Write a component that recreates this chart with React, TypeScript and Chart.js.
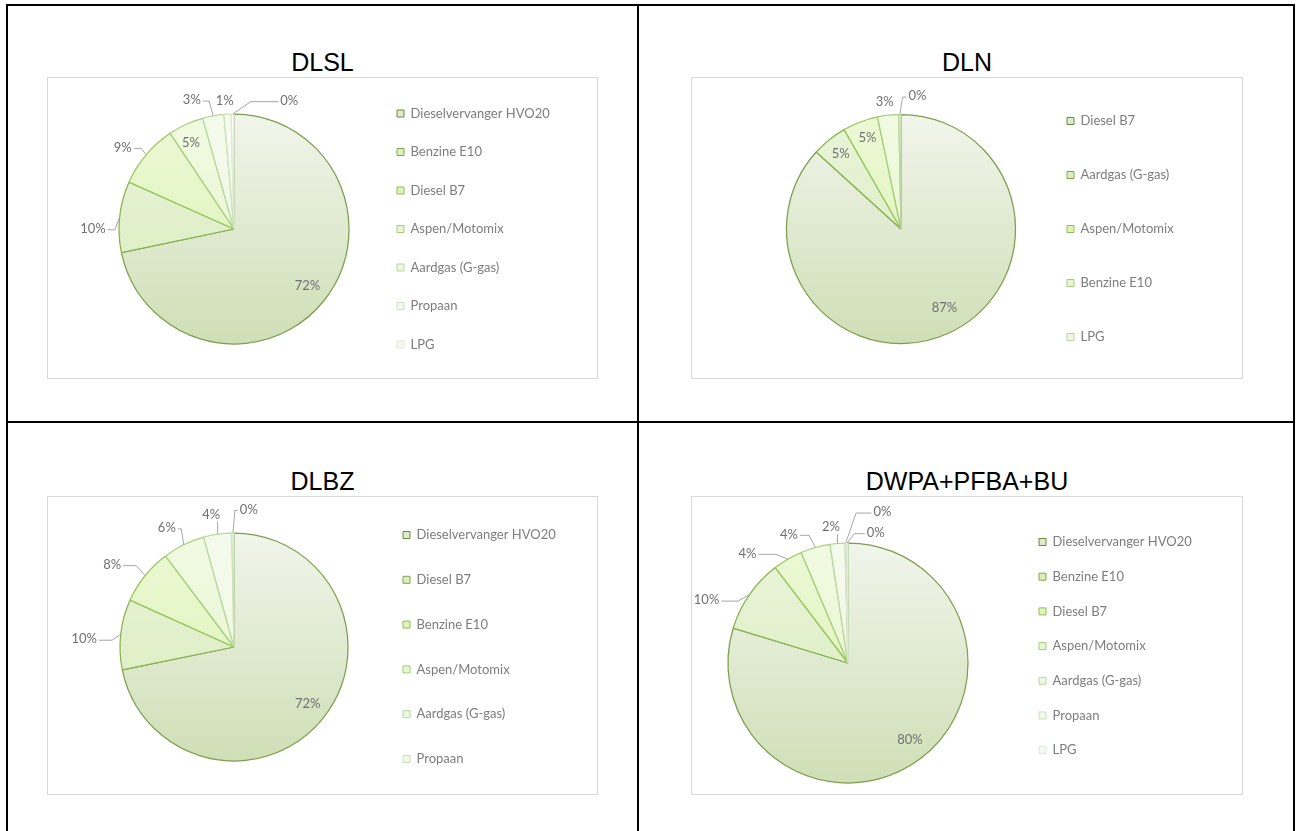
import React, { useEffect, useRef } from 'react';
import { Chart, registerables } from 'chart.js';

Chart.register(...registerables);

// ---------- data ----------
const chartTitles = ['DLSL', 'DLN', 'DLBZ', 'DWPA+PFBA+BU'];

const dlslCategories = ['Dieselvervanger HVO20', 'Benzine E10', 'Diesel B7', 'Aspen/Motomix', 'Aardgas (G-gas)', 'Propaan', 'LPG'];
const dlslValues = [72, 10, 9, 5, 3, 1, 0.4];

const dlnCategories = ['Diesel B7', 'Aardgas (G-gas)', 'Aspen/Motomix', 'Benzine E10', 'LPG'];
const dlnValues = [87, 5, 5, 3, 0.3];

const dlbzCategories = ['Dieselvervanger HVO20', 'Diesel B7', 'Benzine E10', 'Aspen/Motomix', 'Aardgas (G-gas)', 'Propaan'];
const dlbzValues = [72, 10, 8, 6, 4, 0.3];

const dwpaCategories = ['Dieselvervanger HVO20', 'Benzine E10', 'Diesel B7', 'Aspen/Motomix', 'Aardgas (G-gas)', 'Propaan', 'LPG'];
const dwpaValues = [80, 10, 4, 4, 2, 0.2, 0.2];

// ---------- styles ----------
const sliceTop = ['#f1f5eb', '#e9f4da', '#ecf9d5', '#f1fae2', '#f5fbec', '#f7fbf1', '#f9fbf6'];
const sliceBottom = ['#cfdfb6', '#d8ecba', '#daf2b2', '#e4f5cb', '#ecf6e0', '#f0f6e8', '#f3f7ef'];
const sliceBorder = ['#7f9e4c', '#8bb24d', '#99c65c', '#aacd80', '#bdd7a3', '#cfe1c1', '#dfe9d8'];
const legendFill = ['#dfe9cf', '#dcedc2', '#dff4bd', '#e8f6d2', '#eef7e3', '#f2f8ea', '#f6f9f2'];
const legendStroke = ['#6b8b3a', '#7ea845', '#8fc050', '#a6cb7c', '#bad5a0', '#cde0be', '#dfe8d8'];

const FONT_FAMILY = 'Lato';
const FONT_SIZE = 13;
const TEXT_GRAY = '#7d7d7d';

// label placement: [radius factor, angle shift in degrees] relative to slice mid-angle
const dlslLabelPos = [[0.805, -1.6], [1.226, -6], [1.2, -3.9], [0.837, -1.8], [1.18, -7.7], [1.12, -0.9], [1.215, 24]];
const dlnLabelPos = [[0.79, -4.9], [0.84, 0], [0.85, 0.6], [1.116, -0.9], [1.17, 7.6]];
const dlbzLabelPos = [[0.816, -1.6], [1.316, -3.4], [1.29, -4.6], [1.2, -3.2], [1.177, -1.5], [1.214, 6.7]];
const dwpaLabelPos = [[0.82, -2.4], [1.29, -10.8], [1.24, -12.4], [1.18, -8.9], [1.14, -2.1], [1.29, 13.9], [1.11, 12.4]];

type Panel = {
  title: string;
  labels: string[];
  values: number[];
  labelPos: number[][];
  box: { l: number; t: number; r: number; b: number };
  titleY: number;
  cx: number;
  cy: number;
  R: number;
  legendX: number;
  legendY: number | null;
  spacing: number;
};

const panels: Panel[] = [
  { title: chartTitles[0], labels: dlslCategories, values: dlslValues, labelPos: dlslLabelPos,
    box: { l: 47, t: 77, r: 598, b: 379 }, titleY: 62, cx: 234, cy: 229, R: 115, legendX: 397, legendY: null, spacing: 38.5 },
  { title: chartTitles[1], labels: dlnCategories, values: dlnValues, labelPos: dlnLabelPos,
    box: { l: 691, t: 77, r: 1243, b: 379 }, titleY: 62, cx: 901, cy: 229, R: 114.5, legendX: 1067, legendY: null, spacing: 54 },
  { title: chartTitles[2], labels: dlbzCategories, values: dlbzValues, labelPos: dlbzLabelPos,
    box: { l: 47, t: 496, r: 598, b: 795 }, titleY: 481, cx: 234, cy: 647, R: 114, legendX: 403, legendY: null, spacing: 44.8 },
  { title: chartTitles[3], labels: dwpaCategories, values: dwpaValues, labelPos: dwpaLabelPos,
    box: { l: 691, t: 496, r: 1243, b: 795 }, titleY: 481, cx: 848, cy: 663, R: 120, legendX: 1039, legendY: 542, spacing: 34.7 },
];

const pieLabelPlugin = {
  id: 'pieLabels',
  afterDatasetsDraw(chart: any, _args: any, opts: any) {
    const { ctx } = chart;
    const meta = chart.getDatasetMeta(0);
    const data: number[] = chart.data.datasets[0].data;
    const total = data.reduce((a, b) => a + b, 0);
    ctx.save();
    ctx.font = opts.font;
    ctx.textAlign = 'center';
    ctx.textBaseline = 'middle';
    meta.data.forEach((arc: any, i: number) => {
      const { x, y, startAngle, endAngle, outerRadius } = arc.getProps(['x', 'y', 'startAngle', 'endAngle', 'outerRadius'], true);
      const mid = (startAngle + endAngle) / 2;
      const [k, da] = opts.positions[i];
      const a = mid + (da * Math.PI) / 180;
      const px = x + k * outerRadius * Math.cos(a);
      const py = y + k * outerRadius * Math.sin(a);
      const text = Math.round((data[i] / total) * 100) + '%';
      const w = ctx.measureText(text).width;
      if (k > 1) {
        const ex = x + outerRadius * Math.cos(mid);
        const ey = y + outerRadius * Math.sin(mid);
        const half = w / 2;
        let pts: number[][] | null = null;
        if (Math.abs(ex - px) <= half + 2) {
          const sx = Math.min(Math.max(ex, px - half), px + half);
          const sy = ey > py ? py + 7 : py - 7;
          if (Math.abs(ey - sy) > 9) pts = [[sx, sy], [ex, ey]];
        } else {
          const side = ex > px ? 1 : -1;
          const ax = px + side * (half + 2);
          const ay = py + 1;
          if (Math.hypot(ex - ax, ey - ay) > 10) {
            const hx = ax + side * Math.min(30, Math.abs(ex - ax) * 0.6);
            pts = [[ax, ay], [hx, ay], [ex, ey]];
          }
        }
        if (pts) {
          ctx.beginPath();
          ctx.strokeStyle = opts.lineColor;
          ctx.lineWidth = 1;
          ctx.moveTo(pts[0][0], pts[0][1]);
          for (let j = 1; j < pts.length; j++) ctx.lineTo(pts[j][0], pts[j][1]);
          ctx.stroke();
        }
      }
      ctx.fillStyle = opts.color;
      ctx.fillText(text, px, py);
    });
    ctx.restore();
  },
};

function measureMax(font: string, texts: string[]) {
  const c = document.createElement('canvas').getContext('2d')!;
  c.font = font;
  return Math.max(...texts.map((t) => c.measureText(t).width));
}

const EXT_X = 40;
const HALF_H = 180;

function PieChart({ panel }: { panel: Panel }) {
  const ref = useRef<HTMLCanvasElement>(null);
  const x0 = panel.box.l - EXT_X;
  const W = panel.box.r - panel.box.l + 2 * EXT_X;
  const y0 = panel.cy - HALF_H;
  const H = HALF_H * 2;

  useEffect(() => {
    const canvas = ref.current!;
    const fs = FONT_SIZE;
    const boxW = 7;
    const p = panel.spacing - fs;
    const textW = measureMax(`${fs}px ${FONT_FAMILY}`, panel.labels);
    const WL = p + boxW + fs / 2 + textW + 10;
    const cxr = panel.cx - x0;
    const areaRight = panel.legendX - x0 - p;
    const padLeft = 2 * cxr - areaRight;
    const padRight = W - areaRight - WL;
    let padTop = 0;
    let padBottom = 0;
    let align: 'center' | 'start' = 'center';
    if (panel.legendY !== null) {
      align = 'start';
      const areaTop = panel.legendY - y0 - p - fs / 2;
      const areaBottom = 2 * (panel.cy - y0) - areaTop;
      padTop = areaTop;
      padBottom = H - areaBottom;
    }
    const R = panel.R;
    const n = panel.values.length;

    const chart = new Chart(canvas, {
      type: 'pie',
      data: {
        labels: panel.labels,
        datasets: [
          {
            data: panel.values,
            radius: R,
            backgroundColor: (c: any) => {
              const i = c.dataIndex ?? 0;
              const area = c.chart.chartArea;
              if (!area) return sliceTop[i];
              const cy = (area.top + area.bottom) / 2;
              const g = c.chart.ctx.createLinearGradient(0, cy - R, 0, cy + R);
              g.addColorStop(0, sliceTop[i]);
              g.addColorStop(1, sliceBottom[i]);
              return g;
            },
            borderColor: sliceBorder.slice(0, n),
            borderWidth: 1.25,
            hoverOffset: 0,
          } as any,
        ],
      },
      options: {
        responsive: false,
        maintainAspectRatio: false,
        animation: false,
        events: [],
        layout: { padding: { left: padLeft, right: padRight, top: padTop, bottom: padBottom } },
        plugins: {
          title: { display: false },
          tooltip: { enabled: false },
          legend: {
            position: 'right',
            align,
            labels: {
              boxWidth: boxW,
              boxHeight: boxW,
              padding: p,
              color: TEXT_GRAY,
              font: { family: FONT_FAMILY, size: fs },
              generateLabels: (ch: any) =>
                ch.data.labels.map((text: string, i: number) => ({
                  text,
                  fillStyle: legendFill[i],
                  strokeStyle: legendStroke[i],
                  lineWidth: 1,
                  hidden: false,
                  index: i,
                  fontColor: TEXT_GRAY,
                })),
            },
          },
          pieLabels: {
            positions: panel.labelPos,
            font: `${fs}px ${FONT_FAMILY}`,
            color: '#707070',
            lineColor: '#a6a6a6',
          },
        } as any,
      },
      plugins: [pieLabelPlugin as any],
    });
    return () => chart.destroy();
  }, []);

  return (
    <>
      <div
        style={{
          position: 'absolute',
          left: panel.box.l,
          top: panel.box.t,
          width: panel.box.r - panel.box.l - 2,
          height: panel.box.b - panel.box.t - 2,
          border: '1px solid #d9d9d9',
          background: '#ffffff',
        }}
      />
      <div
        style={{
          position: 'absolute',
          left: panel.box.l,
          width: panel.box.r - panel.box.l,
          top: panel.titleY - 15,
          height: 30,
          lineHeight: '30px',
          textAlign: 'center',
          fontFamily: '"Liberation Sans", Arial, sans-serif',
          fontSize: 25,
          color: '#000000',
          whiteSpace: 'nowrap',
        }}
      >
        {panel.title}
      </div>
      <canvas
        ref={ref}
        width={W}
        height={H}
        style={{ position: 'absolute', left: x0, top: y0, width: W, height: H }}
      />
    </>
  );
}

export default function App() {
  const line = (l: number, t: number, w: number, h: number, key: string) => (
    <div key={key} style={{ position: 'absolute', left: l, top: t, width: w, height: h, background: '#000' }} />
  );
  return (
    <div style={{ position: 'fixed', left: 0, top: 0, width: 1300, height: 831, overflow: 'hidden', background: '#ffffff' }}>
      {line(6, 4, 1289, 2, 'top')}
      {line(6, 4, 2, 840, 'left')}
      {line(1293, 4, 2, 840, 'right')}
      {line(637, 4, 2, 840, 'mid')}
      {line(6, 421, 1289, 2, 'hmid')}
      {panels.map((p) => (
        <PieChart key={p.title} panel={p} />
      ))}
    </div>
  );
}
